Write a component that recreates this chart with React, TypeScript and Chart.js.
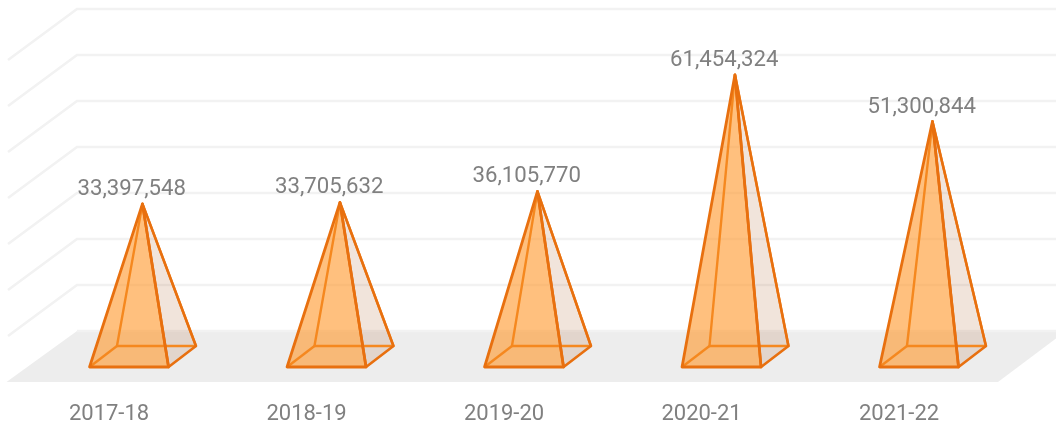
import React, { useEffect, useRef } from "react";
import { Chart, registerables } from "chart.js";

Chart.register(...registerables);

const categories = ["2017-18", "2018-19", "2019-20", "2020-21", "2021-22"];
const values = [33397548, 33705632, 36105770, 61454324, 51300844];
const axisMax = 70000000;
const axisStep = 10000000;

const DEPTH_X = 69;
const DEPTH_Y = 51;
const FRONT = 15 / 51;
const BACK = 36 / 51;
const MID = 0.5;

const FONT = "Roboto";
const TEXT = "#808080";
const GRID = "#f2f2f2";
const FLOOR = "#ededed";
const EDGE = "#e8700f";
const EDGE_BACK = "#f5881f";
const FACE_FRONT = "rgba(255,150,40,0.6)";
const FACE_RIGHT = "rgba(170,90,30,0.16)";

type P = [number, number];

function poly(ctx: CanvasRenderingContext2D, pts: P[], fill?: string, stroke?: string, w = 2.2) {
  ctx.beginPath();
  pts.forEach((p, i) => (i ? ctx.lineTo(p[0], p[1]) : ctx.moveTo(p[0], p[1])));
  ctx.closePath();
  if (fill) {
    ctx.fillStyle = fill;
    ctx.fill();
  }
  if (stroke) {
    ctx.strokeStyle = stroke;
    ctx.lineWidth = w;
    ctx.lineJoin = "round";
    ctx.stroke();
  }
}

const stagePlugin = {
  id: "stage",
  beforeDatasetsDraw(chart: any) {
    const { ctx, chartArea } = chart;
    const y = chart.scales.y;
    const { left, right, bottom } = chartArea;
    const edge = left - 1.5;
    ctx.save();
    poly(ctx, [
      [edge - 1.5, bottom],
      [edge + DEPTH_X, bottom - DEPTH_Y],
      [right + DEPTH_X, bottom - DEPTH_Y],
      [right + 1, bottom],
    ], FLOOR);
    ctx.lineJoin = "miter";
    ctx.lineCap = "butt";
    y.ticks.forEach((t: any) => {
      const py = y.getPixelForValue(t.value);
      ctx.beginPath();
      if (t.value > 0) ctx.moveTo(edge, py);
      else ctx.moveTo(edge + DEPTH_X, py - DEPTH_Y);
      ctx.lineTo(edge + DEPTH_X, py - DEPTH_Y);
      ctx.lineTo(right + DEPTH_X, py - DEPTH_Y);
      ctx.strokeStyle = GRID;
      ctx.lineWidth = 2.6;
      ctx.stroke();
    });
    ctx.restore();
  },
  afterDatasetsDraw(chart: any) {
    const { ctx } = chart;
    const meta = chart.getDatasetMeta(0);
    ctx.save();
    meta.data.forEach((bar: any, i: number) => {
      const half = bar.width / 2;
      const base = bar.base;
      const at = (x: number, d: number): P => [x + DEPTH_X * d, base - DEPTH_Y * d];
      const fl = at(bar.x - half + 0.5, FRONT);
      const fr = at(bar.x + half + 0.5, FRONT);
      const bl = at(bar.x - half - 0.5, BACK);
      const br = at(bar.x + half - 0.5, BACK);
      const apex: P = [bar.x + DEPTH_X * MID - 0.3, bar.y - DEPTH_Y * MID + 1];

      poly(ctx, [fr, br, apex], FACE_RIGHT);
      poly(ctx, [fl, fr, apex], FACE_FRONT);

      poly(ctx, [bl, br, apex], undefined, EDGE_BACK, 2.4);
      ctx.beginPath();
      ctx.moveTo(fl[0], fl[1]);
      ctx.lineTo(bl[0], bl[1]);
      ctx.strokeStyle = EDGE_BACK;
      ctx.lineWidth = 2.4;
      ctx.stroke();

      ctx.lineJoin = "round";
      ctx.strokeStyle = EDGE;
      ctx.lineWidth = 2.6;
      ctx.beginPath();
      ctx.moveTo(fr[0], fr[1]);
      ctx.lineTo(br[0], br[1]);
      ctx.lineTo(apex[0], apex[1]);
      ctx.closePath();
      ctx.stroke();
      poly(ctx, [fl, fr, apex], undefined, EDGE, 2.8);

      ctx.fillStyle = TEXT;
      ctx.font = `22.2px ${FONT}`;
      ctx.textAlign = "center";
      ctx.textBaseline = "alphabetic";
      ctx.fillText(values[i].toLocaleString("en-US"), apex[0] - 10.7, apex[1] - 9);
    });
    ctx.restore();
  },
};

export default function App() {
  const ref = useRef<HTMLCanvasElement>(null);
  useEffect(() => {
    const chart = new Chart(ref.current!, {
      type: "bar",
      data: {
        labels: categories,
        datasets: [
          {
            data: values,
            backgroundColor: "rgba(0,0,0,0)",
            borderWidth: 0,
            barPercentage: 0.4,
            categoryPercentage: 1,
          },
        ],
      },
      plugins: [stagePlugin],
      options: {
        animation: false,
        responsive: false,
        layout: { padding: { left: 9.5, right: 59, top: 60, bottom: 0 } },
        plugins: { legend: { display: false }, tooltip: { enabled: false } },
        scales: {
          x: {
            grid: { display: false },
            border: { display: false },
            afterFit: (s: any) => {
              s.height = 47;
            },
            ticks: { color: TEXT, font: { family: FONT, size: 22 }, padding: 11, maxRotation: 0, labelOffset: 0.8 },
          },
          y: {
            display: false,
            min: 0,
            max: axisMax,
            ticks: { stepSize: axisStep },
          },
        },
      },
    } as any);
    return () => chart.destroy();
  }, []);
  return (
    <div style={{ position: "fixed", left: 0, top: 0, width: 1056, height: 429, background: "#fff" }}>
      <canvas ref={ref} width={1056} height={429} style={{ display: "block" }} />
    </div>
  );
}
